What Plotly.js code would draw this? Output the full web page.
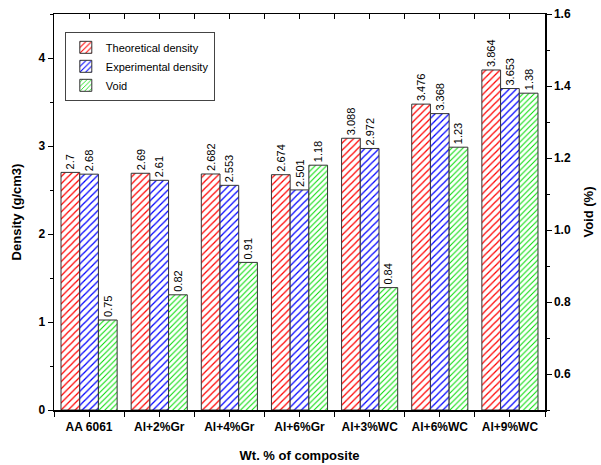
<!DOCTYPE html>
<html>
<head>
<meta charset="utf-8">
<script src="https://cdn.plot.ly/plotly-3.0.1.min.js"></script>
<style>html,body{margin:0;padding:0;background:#fff;}#chart{width:601px;height:465px;}</style>
</head>
<body>
<div id="chart"></div>
<script>
const categories = ["AA 6061", "Al+2%Gr", "Al+4%Gr", "Al+6%Gr", "Al+3%WC", "Al+6%WC", "Al+9%WC"];
const theoreticalDensity = [2.7, 2.69, 2.682, 2.674, 3.088, 3.476, 3.864];
const experimentalDensity = [2.68, 2.61, 2.553, 2.501, 2.972, 3.368, 3.653];
const voidPct = [0.75, 0.82, 0.91, 1.18, 0.84, 1.23, 1.38];

const xIdx = categories.map((c, i) => i);
const font = "Arial, 'Liberation Sans', sans-serif";
const bw = 0.8 / 3;

function barTrace(name, y, color, offset, yaxis, size) {
  return {
    type: 'bar', name: name, x: xIdx, y: y, yaxis: yaxis,
    width: bw, offset: offset,
    text: y.map(String), textposition: 'outside', textangle: -90,
    textfont: {family: font, size: 11, color: '#000'},
    constraintext: 'none', cliponaxis: false,
    marker: {color: '#fff', line: {color: '#333', width: 1},
      pattern: {shape: '/', fgcolor: color, bgcolor: '#fff', size: size, solidity: 0.25}},
    hoverinfo: 'skip'
  };
}

const data = [
  barTrace('Theoretical density', theoreticalDensity, '#ff0000', -0.4, 'y', 5),
  barTrace('Experimental density', experimentalDensity, '#0000ff', -0.4 + bw, 'y', 5),
  barTrace('Void', voidPct, '#00dd00', -0.4 + 2 * bw, 'y2', 4),
  {type: 'scatter', x: [0], y: [0], xaxis: 'x2', mode: 'markers', marker: {opacity: 0}, showlegend: false, hoverinfo: 'skip'}
];

const tickFont = {family: font, size: 12, color: '#000', weight: 'bold'};
const titleFont = {family: font, size: 13, color: '#000', weight: 'bold'};

const layout = {
  width: 601, height: 465,
  margin: {l: 54, r: 56, t: 14, b: 55},
  paper_bgcolor: '#fff', plot_bgcolor: '#fff',
  barmode: 'overlay',
  showlegend: true,
  legend: {x: 0.022, y: 0.955, xanchor: 'left', yanchor: 'top',
    bordercolor: '#444', borderwidth: 1, bgcolor: '#fff',
    font: {family: font, size: 11, color: '#000'}, tracegroupgap: 0, itemwidth: 30},
  xaxis: {
    range: [-0.5, 6.5], tickvals: xIdx, ticktext: categories,
    ticks: 'outside', ticklen: 5, tickwidth: 1, tickcolor: '#000',
    minor: {tick0: 0.5, dtick: 1, ticks: 'outside', ticklen: 5, tickwidth: 1, tickcolor: '#000'},
    showline: true, linecolor: '#000', linewidth: 1.5, showgrid: false, zeroline: false,
    tickfont: tickFont,
    title: {text: 'Wt. % of composite', font: titleFont, standoff: 18}
  },
  xaxis2: {
    overlaying: 'x', side: 'top', anchor: 'y', range: [-0.5, 6.5],
    tickvals: xIdx, showticklabels: false,
    ticks: 'inside', ticklen: 5, tickwidth: 1, tickcolor: '#000',
    minor: {tick0: 0.5, dtick: 1, ticks: 'inside', ticklen: 5, tickwidth: 1, tickcolor: '#000'},
    showline: true, linecolor: '#000', linewidth: 1.5, showgrid: false, zeroline: false
  },
  yaxis: {
    range: [0, 4.5], tick0: 0, dtick: 1,
    ticks: 'outside', ticklen: 5, tickwidth: 1, tickcolor: '#000',
    minor: {dtick: 0.5, ticks: 'outside', ticklen: 3, tickwidth: 1, tickcolor: '#000'},
    showline: true, linecolor: '#000', linewidth: 1.5, showgrid: false, zeroline: false,
    tickfont: tickFont,
    title: {text: 'Density (g/cm3)', font: titleFont, standoff: 14}
  },
  yaxis2: {
    overlaying: 'y', side: 'right', range: [0.5, 1.6], tick0: 0, dtick: 0.2,
    tickformat: '.1f',
    ticks: 'outside', ticklen: 5, tickwidth: 1, tickcolor: '#000',
    minor: {dtick: 0.1, ticks: 'outside', ticklen: 3, tickwidth: 1, tickcolor: '#000'},
    showline: true, linecolor: '#000', linewidth: 1.5, showgrid: false, zeroline: false,
    tickfont: tickFont,
    title: {text: 'Void (%)', font: titleFont, standoff: 14}
  }
};

Plotly.newPlot('chart', data, layout, {displayModeBar: false, staticPlot: true});
</script>
</body>
</html>
